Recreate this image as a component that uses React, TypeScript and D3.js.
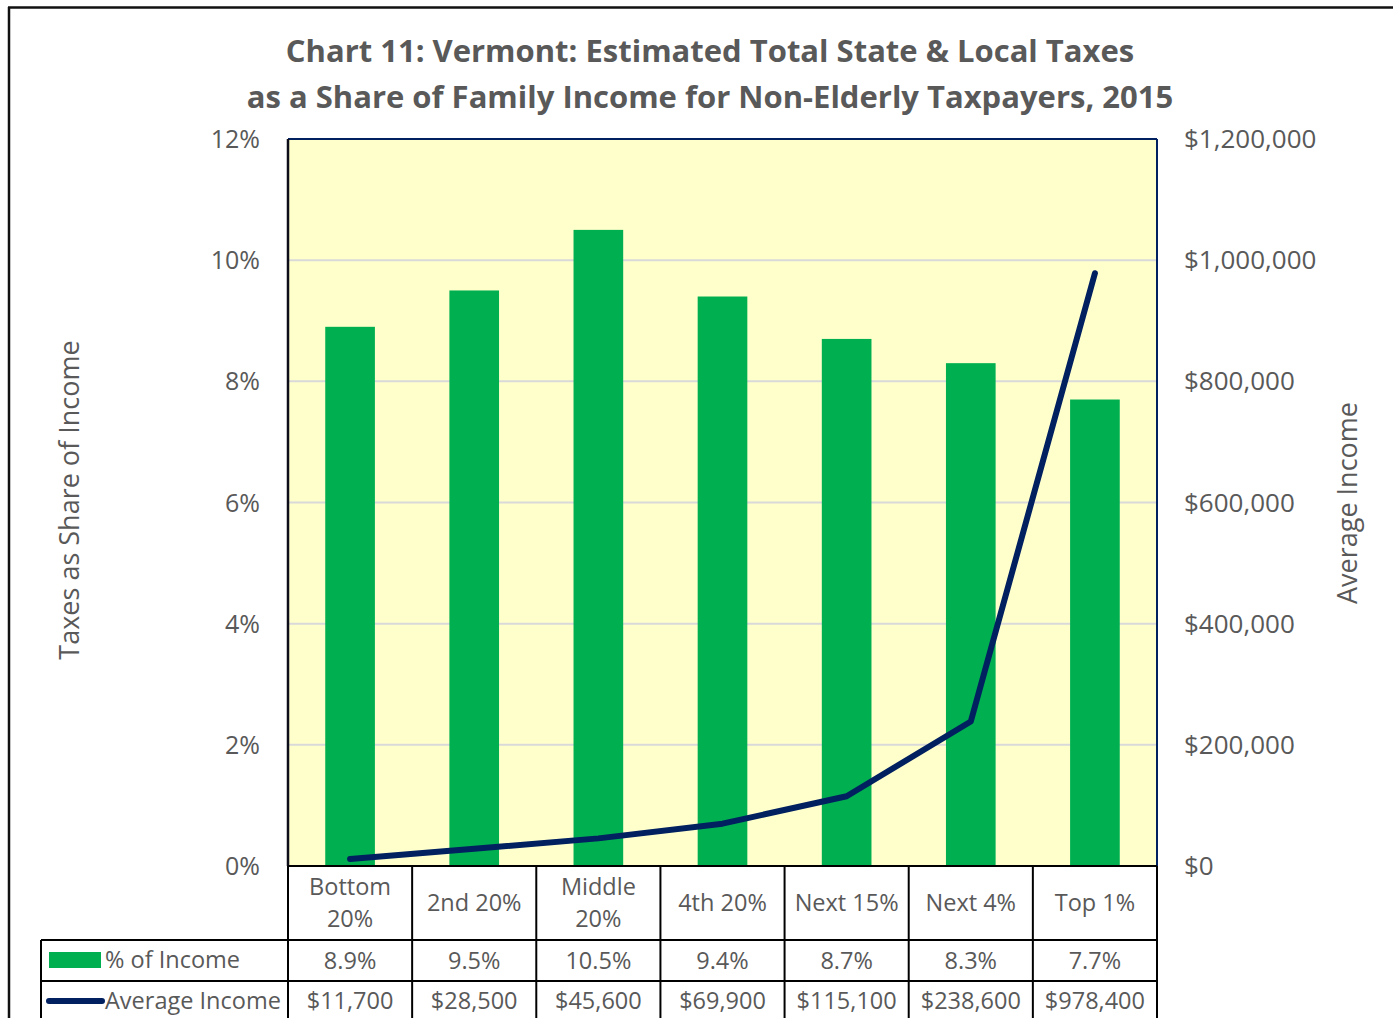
import React from "react";
import * as d3 from "d3";

const categories = ["Bottom 20%", "2nd 20%", "Middle 20%", "4th 20%", "Next 15%", "Next 4%", "Top 1%"];
const categoryLines = [["Bottom", "20%"], ["2nd 20%"], ["Middle", "20%"], ["4th 20%"], ["Next 15%"], ["Next 4%"], ["Top 1%"]];
const shareOfIncome = [8.9, 9.5, 10.5, 9.4, 8.7, 8.3, 7.7];
const averageIncome = [11700, 28500, 45600, 69900, 115100, 238600, 978400];
const leftTicks = [0, 2, 4, 6, 8, 10, 12];
const rightTicks = [0, 200000, 400000, 600000, 800000, 1000000, 1200000];
const titleLines = [
  "Chart 11: Vermont: Estimated Total State & Local Taxes",
  "as a Share of Family Income for Non-Elderly Taxpayers, 2015",
];
const seriesNames = ["% of Income", "Average Income"];

const W = 1393;
const H = 1018;
const plot = { left: 288, right: 1157, top: 139, bottom: 866 };
const GRAY = "#595959";
const GREEN = "#00B050";
const NAVY = "#002060";
const FONT = "'Open Sans', sans-serif";
const TABLE_FS = 23.5;

export default function App() {
  const x = d3.scaleBand<string>().domain(categories).range([plot.left, plot.right]).paddingInner(0.6).paddingOuter(0.3);
  const xCell = d3.scaleBand<string>().domain(categories).range([plot.left, plot.right]);
  const yL = d3.scaleLinear().domain([0, 12]).range([plot.bottom, plot.top]);
  const yR = d3.scaleLinear().domain([0, 1200000]).range([plot.bottom, plot.top]);
  const line = d3
    .line<number>()
    .x((_, i) => (xCell(categories[i]) as number) + xCell.bandwidth() / 2)
    .y((d) => yR(d));
  const fmtPct = (v: number) => `${v}%`;
  const fmtDollar = (v: number) => "$" + d3.format(",")(v);
  const fmtShare = d3.format(".1f");

  const rowTop = [866, 940, 981, 1022];
  const tableLeft = 41;

  return (
    <svg width={W} height={H} style={{ position: "absolute", left: 0, top: 0, fontFamily: FONT }}>
      <rect x={0} y={0} width={W} height={H} fill="#fff" />
      {/* outer chart border */}
      <line x1={8} y1={7.5} x2={W} y2={7.5} stroke="#111" strokeWidth={2.5} />
      <line x1={9} y1={7} x2={9} y2={H} stroke="#111" strokeWidth={2.5} />

      {/* title */}
      {titleLines.map((t, i) => (
        <text key={i} x={710} y={62 + i * 46} textAnchor="middle" fontSize={31} fontWeight="bold" fill={GRAY}>
          {t}
        </text>
      ))}

      {/* plot background */}
      <rect x={plot.left} y={plot.top} width={plot.right - plot.left} height={plot.bottom - plot.top} fill="#FFFFCC" />
      {leftTicks.map((t) =>
        t > 0 && t < 12 ? (
          <line key={t} x1={plot.left} x2={plot.right} y1={yL(t)} y2={yL(t)} stroke="#D9D9D9" strokeWidth={2} />
        ) : null
      )}

      {/* bars */}
      {shareOfIncome.map((v, i) => (
        <rect
          key={i}
          x={x(categories[i])}
          y={yL(v)}
          width={x.bandwidth()}
          height={plot.bottom - yL(v)}
          fill={GREEN}
        />
      ))}

      {/* line */}
      <path d={line(averageIncome) || ""} fill="none" stroke={NAVY} strokeWidth={6} strokeLinejoin="round" strokeLinecap="round" />

      {/* plot border */}
      <line x1={plot.left} x2={plot.right} y1={plot.top} y2={plot.top} stroke={NAVY} strokeWidth={2} />
      <line x1={plot.right} x2={plot.right} y1={plot.top} y2={plot.bottom} stroke={NAVY} strokeWidth={2} />
      <line x1={plot.left} x2={plot.left} y1={plot.top} y2={plot.bottom} stroke="#0d0d1a" strokeWidth={2.5} />

      {/* left ticks */}
      {leftTicks.map((t) => (
        <text key={t} x={260} y={yL(t) + 9} textAnchor="end" fontSize={25} fill={GRAY}>
          {fmtPct(t)}
        </text>
      ))}
      {/* right ticks */}
      {rightTicks.map((t) => (
        <text key={t} x={1184} y={yR(t) + 9} textAnchor="start" fontSize={26} fill={GRAY}>
          {fmtDollar(t)}
        </text>
      ))}

      {/* axis titles */}
      <text transform="translate(79,500) rotate(-90)" textAnchor="middle" fontSize={27} fill={GRAY}>
        Taxes as Share of Income
      </text>
      <text transform="translate(1357,503) rotate(-90)" textAnchor="middle" fontSize={27} fill={GRAY}>
        Average Income
      </text>

      {/* data table */}
      <g stroke="#000" strokeWidth={2}>
        <line x1={plot.left} x2={plot.right} y1={rowTop[0]} y2={rowTop[0]} />
        <line x1={tableLeft} x2={plot.right} y1={rowTop[1]} y2={rowTop[1]} />
        <line x1={tableLeft} x2={plot.right} y1={rowTop[2]} y2={rowTop[2]} />
        <line x1={tableLeft} x2={tableLeft} y1={rowTop[1]} y2={rowTop[3]} />
        {categories.map((c) => (
          <line key={c} x1={xCell(c)} x2={xCell(c)} y1={rowTop[0]} y2={rowTop[3]} />
        ))}
        <line x1={plot.right} x2={plot.right} y1={rowTop[0]} y2={rowTop[3]} />
      </g>

      {categoryLines.map((ls, i) => {
        const cx = (xCell(categories[i]) as number) + xCell.bandwidth() / 2;
        const mid = (rowTop[0] + rowTop[1]) / 2;
        return ls.map((l, j) => (
          <text
            key={`${i}-${j}`}
            x={cx}
            y={mid + 8 + (j - (ls.length - 1) / 2) * 32}
            textAnchor="middle"
            fontSize={TABLE_FS}
            fill={GRAY}
          >
            {l}
          </text>
        ));
      })}

      {shareOfIncome.map((v, i) => (
        <text
          key={`s${i}`}
          x={(xCell(categories[i]) as number) + xCell.bandwidth() / 2}
          y={(rowTop[1] + rowTop[2]) / 2 + 8}
          textAnchor="middle"
          fontSize={TABLE_FS}
          fill={GRAY}
        >
          {fmtShare(v)}%
        </text>
      ))}
      {averageIncome.map((v, i) => (
        <text
          key={`a${i}`}
          x={(xCell(categories[i]) as number) + xCell.bandwidth() / 2}
          y={1009}
          textAnchor="middle"
          fontSize={TABLE_FS}
          fill={GRAY}
        >
          {fmtDollar(v)}
        </text>
      ))}

      {/* legend keys */}
      <rect x={49} y={952} width={52} height={16} fill={GREEN} />
      <text x={105} y={968} fontSize={TABLE_FS} fill={GRAY}>
        {seriesNames[0]}
      </text>
      <line x1={49} x2={102} y1={1001} y2={1001} stroke={NAVY} strokeWidth={6} strokeLinecap="round" />
      <text x={105} y={1009} fontSize={TABLE_FS} fill={GRAY}>
        {seriesNames[1]}
      </text>
    </svg>
  );
}
